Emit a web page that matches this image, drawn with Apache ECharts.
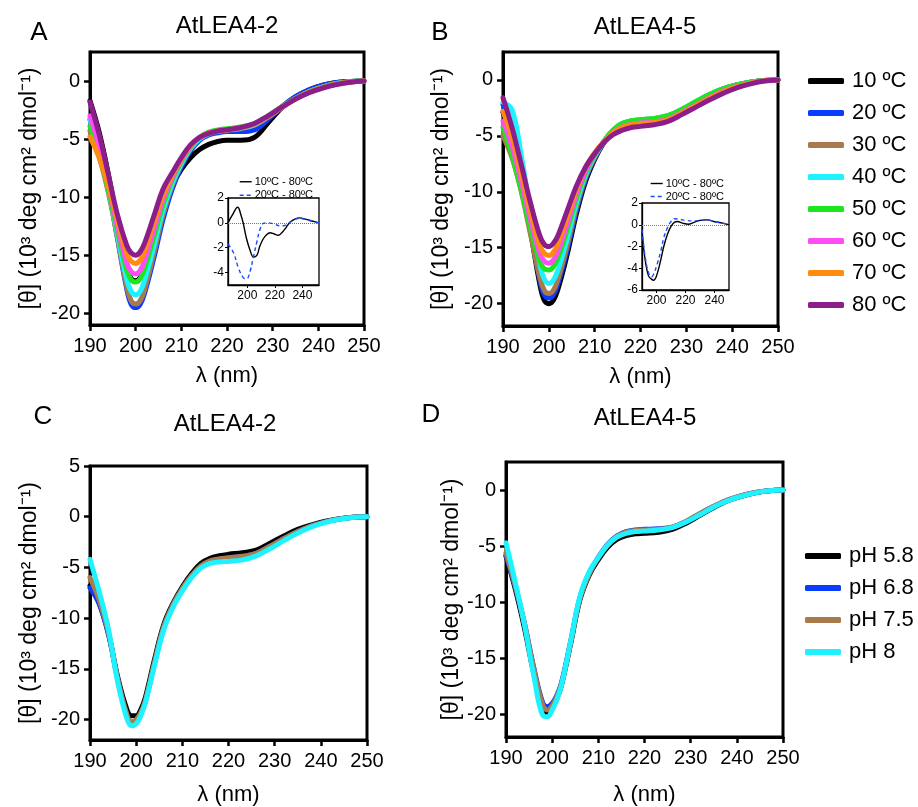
<!DOCTYPE html>
<html><head><meta charset="utf-8">
<script src="https://cdn.jsdelivr.net/npm/echarts@6/dist/echarts.min.js"></script>
<style>html,body{margin:0;padding:0;background:#fff}#c{width:918px;height:807px}</style>
</head><body><div id="c"></div>
<script>
// ---------- DATA ----------
const wl = [190,192,194,196,198,199,200,201,202,204,206,208,210,212,214,216,218,220,223,226,229,232,235,238,241,244,247,250];

const tempNames = ['10 ºC','20 ºC','30 ºC','40 ºC','50 ºC','60 ºC','70 ºC','80 ºC'];
const phNames = ['pH 5.8','pH 6.8','pH 7.5','pH 8'];
const diffNames = ['10ºC - 80ºC','20ºC - 80ºC'];
const titles = ['AtLEA4-2','AtLEA4-5','AtLEA4-2','AtLEA4-5'];
const panelLetters = ['A','B','C','D'];
const xTicks = [190,200,210,220,230,240,250];
const yTicksAB = [-20,-15,-10,-5,0];
const yTicksC = [-20,-15,-10,-5,0,5];
const insetXTicks = [200,220,240];
const insetAYTicks = [-4,-2,0,2];
const insetBYTicks = [-6,-4,-2,0,2];

// Panel A (AtLEA4-2, temperature)
const a10 = [-1.7,-4.4,-8.0,-12.2,-15.9,-17.0,-17.2,-16.9,-16.0,-13.6,-11.0,-9.0,-7.6,-6.6,-5.9,-5.45,-5.2,-5.1,-5.1,-4.85,-3.6,-2.3,-1.35,-0.75,-0.35,-0.12,-0.03,0];
const a20 = [-3.3,-5.8,-9.2,-13.5,-17.8,-19.2,-19.5,-19.2,-18.2,-15.2,-11.9,-9.3,-7.4,-6.0,-5.1,-4.65,-4.45,-4.35,-4.35,-4.2,-3.3,-2.2,-1.35,-0.75,-0.35,-0.12,-0.03,0];
const a30 = [-4.3,-6.5,-9.6,-13.5,-17.6,-18.9,-19.2,-18.9,-17.9,-14.8,-11.5,-9.0,-7.2,-5.85,-5.0,-4.55,-4.35,-4.25,-4.1,-3.8,-3.1,-2.3,-1.5,-0.9,-0.5,-0.2,-0.06,0];
const a40 = [-3.3,-5.9,-9.3,-13.2,-17.0,-18.1,-18.4,-18.1,-17.1,-14.2,-11.1,-8.8,-7.1,-5.8,-4.95,-4.5,-4.3,-4.2,-4.05,-3.75,-3.05,-2.25,-1.5,-0.9,-0.5,-0.2,-0.06,0];
const a50 = [-3.9,-6.3,-9.3,-12.9,-16.2,-17.1,-17.3,-17.0,-16.1,-13.4,-10.6,-8.5,-6.9,-5.7,-4.85,-4.4,-4.2,-4.1,-3.95,-3.65,-3.0,-2.2,-1.5,-0.9,-0.5,-0.2,-0.06,0];
const a60 = [-3.0,-5.6,-8.9,-12.5,-15.6,-16.4,-16.6,-16.3,-15.4,-12.8,-10.2,-8.3,-6.8,-5.65,-4.85,-4.45,-4.3,-4.2,-4.0,-3.7,-3.05,-2.25,-1.55,-0.95,-0.55,-0.25,-0.08,0];
const a70 = [-4.8,-6.6,-9.0,-12.0,-14.8,-15.5,-15.7,-15.4,-14.6,-12.2,-9.8,-8.1,-6.7,-5.6,-4.85,-4.45,-4.3,-4.2,-4.0,-3.7,-3.05,-2.25,-1.55,-0.95,-0.55,-0.25,-0.08,0];
const a80 = [-1.8,-4.6,-8.0,-11.5,-14.1,-14.8,-15.0,-14.7,-13.9,-11.6,-9.3,-7.9,-6.6,-5.5,-4.85,-4.5,-4.3,-4.2,-4.0,-3.65,-3.0,-2.25,-1.55,-1.0,-0.6,-0.3,-0.1,0];

// Panel B (AtLEA4-5, temperature)
const b10 = [-2.9,-5.5,-9.0,-13.5,-18.2,-19.7,-20.0,-19.7,-18.7,-15.6,-12.0,-9.1,-7.1,-5.6,-4.6,-4.0,-3.75,-3.65,-3.55,-3.3,-2.75,-2.05,-1.4,-0.85,-0.45,-0.2,-0.05,0];
const b20 = [-2.2,-5.0,-8.6,-13.2,-17.8,-19.2,-19.5,-19.2,-18.2,-15.2,-11.7,-8.9,-7.0,-5.55,-4.55,-3.95,-3.7,-3.6,-3.5,-3.25,-2.7,-2.0,-1.35,-0.8,-0.45,-0.2,-0.05,0];
const b30 = [-5.0,-7.0,-10.0,-13.8,-17.6,-18.8,-19.1,-18.8,-17.8,-14.8,-11.4,-8.7,-6.9,-5.5,-4.5,-3.9,-3.65,-3.55,-3.45,-3.2,-2.65,-2.0,-1.35,-0.8,-0.45,-0.2,-0.05,0];
const b40 = [-2.0,-2.7,-6.8,-11.8,-16.4,-17.8,-18.2,-17.9,-17.0,-14.2,-11.0,-8.5,-6.8,-5.5,-4.5,-3.9,-3.65,-3.55,-3.45,-3.2,-2.65,-1.95,-1.3,-0.8,-0.45,-0.2,-0.05,0];
const b50 = [-4.25,-6.8,-9.9,-13.3,-16.2,-16.9,-17.0,-16.7,-15.9,-13.4,-10.6,-8.3,-6.7,-5.5,-4.5,-3.9,-3.65,-3.55,-3.45,-3.2,-2.65,-1.95,-1.3,-0.8,-0.45,-0.2,-0.05,0];
const b60 = [-3.7,-6.0,-9.1,-12.5,-15.5,-16.2,-16.4,-16.1,-15.3,-12.9,-10.2,-8.1,-6.6,-5.55,-4.7,-4.2,-3.95,-3.85,-3.75,-3.5,-2.9,-2.25,-1.6,-1.0,-0.6,-0.28,-0.08,0];
const b70 = [-2.8,-5.2,-8.4,-11.8,-14.8,-15.5,-15.7,-15.4,-14.6,-12.3,-9.8,-7.8,-6.5,-5.55,-4.75,-4.25,-4.0,-3.9,-3.8,-3.55,-2.95,-2.3,-1.65,-1.05,-0.6,-0.3,-0.08,0];
const b80 = [-1.6,-4.3,-7.6,-11.0,-13.9,-14.7,-14.9,-14.6,-13.9,-11.7,-9.5,-7.8,-6.6,-5.6,-4.9,-4.5,-4.25,-4.15,-4.0,-3.7,-3.1,-2.45,-1.8,-1.2,-0.7,-0.35,-0.1,0];

// Panel C (AtLEA4-2, pH)
const c58 = [-6.8,-8.5,-11.5,-15.8,-19.0,-19.6,-19.6,-19.0,-17.8,-14.0,-10.6,-8.5,-6.9,-5.6,-4.6,-4.1,-3.85,-3.7,-3.55,-3.3,-2.6,-1.9,-1.25,-0.8,-0.45,-0.2,-0.05,0];
const c68 = [-7.0,-8.6,-11.6,-16.0,-19.6,-20.3,-20.1,-19.4,-18.2,-14.4,-10.9,-8.7,-7.1,-5.85,-4.9,-4.4,-4.15,-4.05,-3.9,-3.6,-2.9,-2.15,-1.45,-0.9,-0.5,-0.22,-0.06,0];
const c75 = [-6.0,-8.2,-11.4,-16.0,-19.5,-20.2,-20.0,-19.3,-18.1,-14.3,-10.8,-8.65,-7.05,-5.8,-4.85,-4.35,-4.15,-4.05,-3.9,-3.6,-2.9,-2.15,-1.45,-0.9,-0.5,-0.22,-0.06,0];
const c80 = [-4.2,-7.4,-11.1,-16.3,-19.9,-20.6,-20.4,-19.6,-18.3,-14.6,-11.1,-8.9,-7.3,-6.0,-5.05,-4.6,-4.45,-4.4,-4.25,-3.85,-3.15,-2.35,-1.6,-1.0,-0.55,-0.25,-0.07,0];

// Panel D (AtLEA4-5, pH)
const d58 = [-5.9,-8.8,-12.3,-16.3,-19.6,-19.8,-19.4,-18.6,-17.4,-13.7,-9.8,-7.6,-6.2,-5.1,-4.4,-4.05,-3.9,-3.85,-3.75,-3.5,-2.95,-2.25,-1.55,-0.95,-0.55,-0.25,-0.07,0];
const d68 = [-5.8,-8.6,-11.9,-15.8,-19.0,-19.3,-19.0,-18.3,-17.2,-13.5,-9.6,-7.4,-6.0,-4.85,-4.1,-3.7,-3.55,-3.5,-3.45,-3.3,-2.8,-2.1,-1.45,-0.9,-0.5,-0.22,-0.06,0];
const d75 = [-5.6,-8.5,-11.9,-15.9,-19.2,-19.6,-19.2,-18.4,-17.3,-13.6,-9.7,-7.5,-6.0,-4.9,-4.15,-3.75,-3.6,-3.55,-3.5,-3.3,-2.8,-2.1,-1.45,-0.9,-0.5,-0.22,-0.06,0];
const d80 = [-4.7,-8.2,-12.0,-16.5,-20.1,-20.2,-19.6,-18.7,-17.4,-13.5,-9.5,-7.3,-6.0,-4.9,-4.2,-3.85,-3.7,-3.65,-3.55,-3.35,-2.85,-2.2,-1.5,-0.95,-0.55,-0.25,-0.07,0];

// Inset A (difference spectra, AtLEA4-2)
const insAwl10 = [186,189,193,195.5,197,199.5,202,204.5,207,209,211.5,214,216.5,219.5,222.5,225,228,231,234.5,238,242,247,252];
const insA10 = [0.0,0.6,1.25,0.6,0.0,-1.3,-2.2,-2.75,-2.6,-1.9,-1.3,-0.95,-0.8,-0.9,-1.0,-0.8,-0.4,0.05,0.3,0.4,0.3,0.15,0.0];
const insAwl20 = [186,190,193.5,197,199.5,202,204.5,207,209,211.5,215,219.5,224,227.5,231,234.5,238,243,248,252];
const insA20 = [-1.7,-2.4,-3.6,-4.4,-4.5,-3.9,-2.7,-1.5,-0.6,-0.05,0.0,-0.1,-0.25,-0.2,0.05,0.3,0.35,0.25,0.1,0.0];

// Inset B (difference spectra, AtLEA4-5)
const insBwl10 = [190,191,192.5,194.5,196.5,198,200,203,205,207.5,210,212.5,214.5,218,222,225.5,230,235,239.5,245.5,250];
const insB10 = [-0.6,-2.0,-3.5,-4.7,-5.0,-5.1,-4.7,-3.2,-2.0,-0.9,-0.15,0.25,0.3,0.15,0.05,0.2,0.4,0.45,0.3,0.15,0.0];
const insBwl20 = [190,191,192.5,194.5,196.5,198,200.5,203,205,207.5,210,212.5,216,220.5,225.5,230,235,239.5,245.5,250];
const insB20 = [-0.45,-1.7,-3.2,-4.4,-4.8,-4.55,-3.6,-2.4,-1.2,-0.3,0.3,0.55,0.5,0.4,0.35,0.4,0.45,0.3,0.15,0.0];

// ---------- STYLE ----------
const FONT = '"Liberation Sans", Arial, Helvetica, sans-serif';
const tempColors = ['#000000','#0a3cff','#a97a4b','#1ef2ff','#1ee61e','#ff4df5','#ff8c0f','#8c1e8c'];
const phColors = ['#000000','#0a3cff','#a97a4b','#1ef2ff'];
const yName = '[θ] (10³ deg cm² dmol⁻¹)';

function pairs(xs, ys){ return xs.map((x,i)=>[x, ys[i]]); }

const grids = [
  {left:90, top:52, width:274, height:273},
  {left:503, top:52, width:275, height:274},
  {left:90, top:466, width:277, height:276},
  {left:506, top:462, width:277, height:276},
  {left:228, top:198, width:91, height:87},
  {left:642, top:203, width:87, height:87}
].map((g,i)=>Object.assign({show:true, borderColor:'#000', borderWidth: i<4 ? 3 : 1.3, backgroundColor: i<4 ? 'transparent' : '#fff', containLabel:false}, g));

function mainX(gi, gap){
  return {type:'value', gridIndex:gi, min:190, max:250, interval:10,
    name:'λ (nm)', nameLocation:'middle', nameGap:gap,
    nameTextStyle:{fontSize:22, color:'#000', fontFamily:FONT},
    axisLine:{show:true, onZero:false, lineStyle:{color:'#000', width:3}},
    axisTick:{show:true, length:6, lineStyle:{color:'#000', width:2.5}},
    axisLabel:{fontSize:20, color:'#000', fontFamily:FONT, margin:11},
    splitLine:{show:false}};
}
function mainY(gi, min, max, ticks, gap){
  return {type:'value', gridIndex:gi, min, max,
    name:yName, nameLocation:'middle', nameGap:gap,
    nameTextStyle:{fontSize:23, color:'#000', fontFamily:FONT},
    axisLine:{show:true, onZero:false, lineStyle:{color:'#000', width:3}},
    axisTick:{show:true, length:6, customValues:ticks, lineStyle:{color:'#000', width:2.5}},
    axisLabel:{fontSize:20, color:'#000', fontFamily:FONT, margin:10, customValues:ticks},
    splitLine:{show:false}};
}
function insetX(gi, min, max){
  return {type:'value', gridIndex:gi, min, max,
    axisLine:{show:true, onZero:false, lineStyle:{color:'#000', width:1.3}},
    axisTick:{show:true, length:3, customValues:insetXTicks, lineStyle:{color:'#000', width:1}},
    axisLabel:{fontSize:12, color:'#000', fontFamily:FONT, margin:5, customValues:insetXTicks},
    splitLine:{show:false}};
}
function insetY(gi, min, max, ticks){
  return {type:'value', gridIndex:gi, min, max,
    axisLine:{show:true, onZero:false, lineStyle:{color:'#000', width:1.3}},
    axisTick:{show:true, length:3, customValues:ticks, lineStyle:{color:'#000', width:1}},
    axisLabel:{fontSize:12, color:'#000', fontFamily:FONT, margin:4, customValues:ticks},
    splitLine:{show:false}};
}

function mainSeries(gi, name, xs, ys, color){
  return {type:'line', name, xAxisIndex:gi, yAxisIndex:gi, data:pairs(xs, ys),
    smooth:0.4, symbol:'none', clip:true, silent:true,
    lineStyle:{color, width:5, cap:'round', join:'round'}, itemStyle:{color}};
}
function insetSeries(gi, name, xs, ys, color, dashed, withZero){
  const s = {type:'line', name, xAxisIndex:gi, yAxisIndex:gi, data:pairs(xs, ys),
    smooth:0.4, symbol:'none', clip:true, silent:true, z:5,
    lineStyle:{color, width:1.4, type: dashed ? [4,3] : 'solid'}, itemStyle:{color}};
  if (withZero) {
    s.markLine = {silent:true, symbol:['none','none'], label:{show:false},
      lineStyle:{type:'dotted', color:'#777', width:1}, data:[{yAxis:0}], animation:false};
  }
  return s;
}

const series = [];
[a10,a20,a30,a40,a50,a60,a70,a80].forEach((d,i)=>series.push(mainSeries(0, tempNames[i], wl, d, tempColors[i])));
[b10,b20,b30,b40,b50,b60,b70,b80].forEach((d,i)=>series.push(mainSeries(1, tempNames[i], wl, d, tempColors[i])));
[c58,c68,c75,c80].forEach((d,i)=>series.push(mainSeries(2, phNames[i], wl, d, phColors[i])));
[d58,d68,d75,d80].forEach((d,i)=>series.push(mainSeries(3, phNames[i], wl, d, phColors[i])));
series.push(insetSeries(4, diffNames[0], insAwl10, insA10, '#000', false, true));
series.push(insetSeries(4, diffNames[1], insAwl20, insA20, '#1a4cff', true, false));
series.push(insetSeries(5, diffNames[0], insBwl10, insB10, '#000', false, true));
series.push(insetSeries(5, diffNames[1], insBwl20, insB20, '#1a4cff', true, false));

function txt(x, y, text, size){
  return {type:'text', x, y, silent:true, z:100,
    style:{text, fontSize:size, fontFamily:FONT, fill:'#000', align:'center', verticalAlign:'middle', textAlign:'center', textVerticalAlign:'middle'}};
}

const insetLegend = (left, top, lh) => ({data:diffNames, orient:'vertical', left, top, itemWidth:12, itemHeight:8, itemGap:0, selectedMode:false,
  itemStyle:{opacity:0}, lineStyle:{width:1.4},
  textStyle:{fontSize:11, fontFamily:FONT, color:'#000', lineHeight:lh, padding:[0,0,0,-2]}});

const option = {
  animation:false,
  backgroundColor:'#fff',
  grid: grids,
  xAxis: [mainX(0,40), mainX(1,40), mainX(2,44), mainX(3,47), insetX(4,186,252), insetX(5,190,250)],
  yAxis: [mainY(0,-21,2.5,yTicksAB,49), mainY(1,-22,2.5,yTicksAB,50), mainY(2,-22,5,yTicksC,49), mainY(3,-22,2.5,yTicksAB,43),
          insetY(4,-5,2,insetAYTicks), insetY(5,-6,2,insetBYTicks)],
  legend: [
    {data:tempNames, orient:'vertical', left:803, top:60, itemWidth:36, itemHeight:6, icon:'roundRect', itemGap:0, selectedMode:false,
     textStyle:{fontSize:22, fontFamily:FONT, color:'#000', lineHeight:32, padding:[0,0,0,3]}},
    {data:phNames, orient:'vertical', left:800, top:535, itemWidth:36, itemHeight:6, icon:'roundRect', itemGap:0, selectedMode:false,
     textStyle:{fontSize:22, fontFamily:FONT, color:'#000', lineHeight:32, padding:[0,0,0,3]}},
    insetLegend(234, 170, 13.5),
    insetLegend(645, 172, 13)
  ],
  graphic: [
    txt(39, 33, panelLetters[0], 26), txt(440, 33, panelLetters[1], 26),
    txt(43, 417, panelLetters[2], 26), txt(431, 415, panelLetters[3], 26),
    txt(227, 26, titles[0], 24), txt(645, 27, titles[1], 24),
    txt(225, 424, titles[2], 24), txt(645, 418, titles[3], 24)
  ],
  series
};
const chart = echarts.init(document.getElementById('c'));
chart.setOption(option);
</script></body></html>
